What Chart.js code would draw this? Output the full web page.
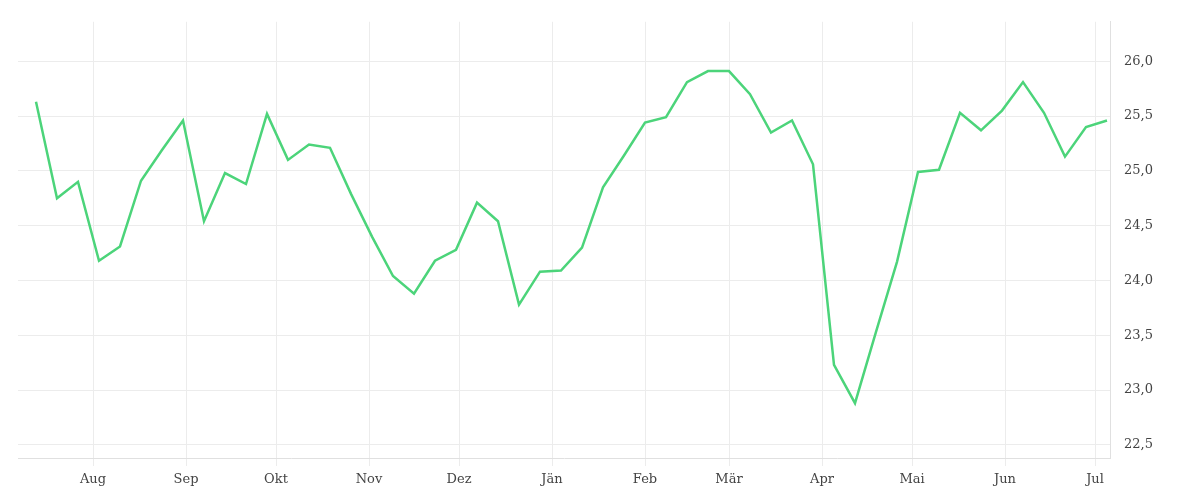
<!DOCTYPE html>
<html>
<head>
<meta charset="utf-8">
<script src="https://cdn.jsdelivr.net/npm/chart.js@4"></script>
<style>
  html, body { margin: 0; background: #fff; }
  #wrap { width: 1200px; height: 500px; }
</style>
</head>
<body>
<div id="wrap"><canvas id="chart"></canvas></div>
<script>
// Wochenwerte, Tag 0 = 1. Aug, erster Punkt Mitte Juli
const firstDay = -19;
const values = [
  25.63, 24.75, 24.90, 24.18, 24.31, 24.91, 25.19, 25.46, 24.54, 24.98,
  24.88, 25.52, 25.10, 25.24, 25.21, 24.79, 24.40, 24.04, 23.88, 24.18,
  24.28, 24.71, 24.54, 23.78, 24.08, 24.09, 24.30, 24.85, 25.14, 25.44,
  25.49, 25.81, 25.91, 25.91, 25.70, 25.35, 25.46, 25.06, 23.23, 22.88,
  23.53, 24.17, 24.99, 25.01, 25.53, 25.37, 25.55, 25.81, 25.53, 25.13,
  25.40, 25.46
];
const monthLabels = ["Aug", "Sep", "Okt", "Nov", "Dez", "Jän", "Feb", "Mär", "Apr", "Mai", "Jun", "Jul"];
const monthDays = [0, 31, 61, 92, 122, 153, 184, 212, 243, 273, 304, 334];
const yTicks = [22.5, 23.0, 23.5, 24.0, 24.5, 25.0, 25.5, 26.0];

const points = values.map((v, i) => ({ x: firstDay + i * 7, y: v }));
const font = { family: "'DejaVu Serif', 'Liberation Serif', serif", size: 13 };

new Chart(document.getElementById("chart"), {
  type: "line",
  data: {
    datasets: [{
      data: points,
      borderColor: "#4cd47a",
      borderWidth: 2.5,
      pointRadius: 0,
      tension: 0
    }]
  },
  options: {
    responsive: true,
    maintainAspectRatio: false,
    animation: false,
    layout: { padding: { left: 18, top: 12, right: 0, bottom: 0 } },
    plugins: { legend: { display: false }, tooltip: { enabled: false } },
    scales: {
      x: {
        type: "linear",
        min: -25,
        max: 339,
        afterBuildTicks: s => { s.ticks = monthDays.map(d => ({ value: d })); },
        afterFit: s => { s.height = 42; },
        ticks: {
          autoSkip: false,
          maxRotation: 0,
          color: "#444",
          font: font,
          padding: 6,
          callback: v => monthLabels[monthDays.indexOf(v)]
        },
        grid: { color: "#ececec", drawTicks: true, tickLength: 8 },
        border: { color: "#e0e0e0" }
      },
      y: {
        position: "right",
        min: 22.38,
        max: 26.36,
        afterBuildTicks: s => { s.ticks = yTicks.map(v => ({ value: v })); },
        afterFit: s => { s.width = 90; },
        ticks: {
          color: "#444",
          font: font,
          padding: 14,
          callback: v => v.toFixed(1).replace(".", ",")
        },
        grid: { color: "#ececec", drawTicks: false },
        border: { color: "#e0e0e0" }
      }
    }
  }
});
</script>
</body>
</html>
